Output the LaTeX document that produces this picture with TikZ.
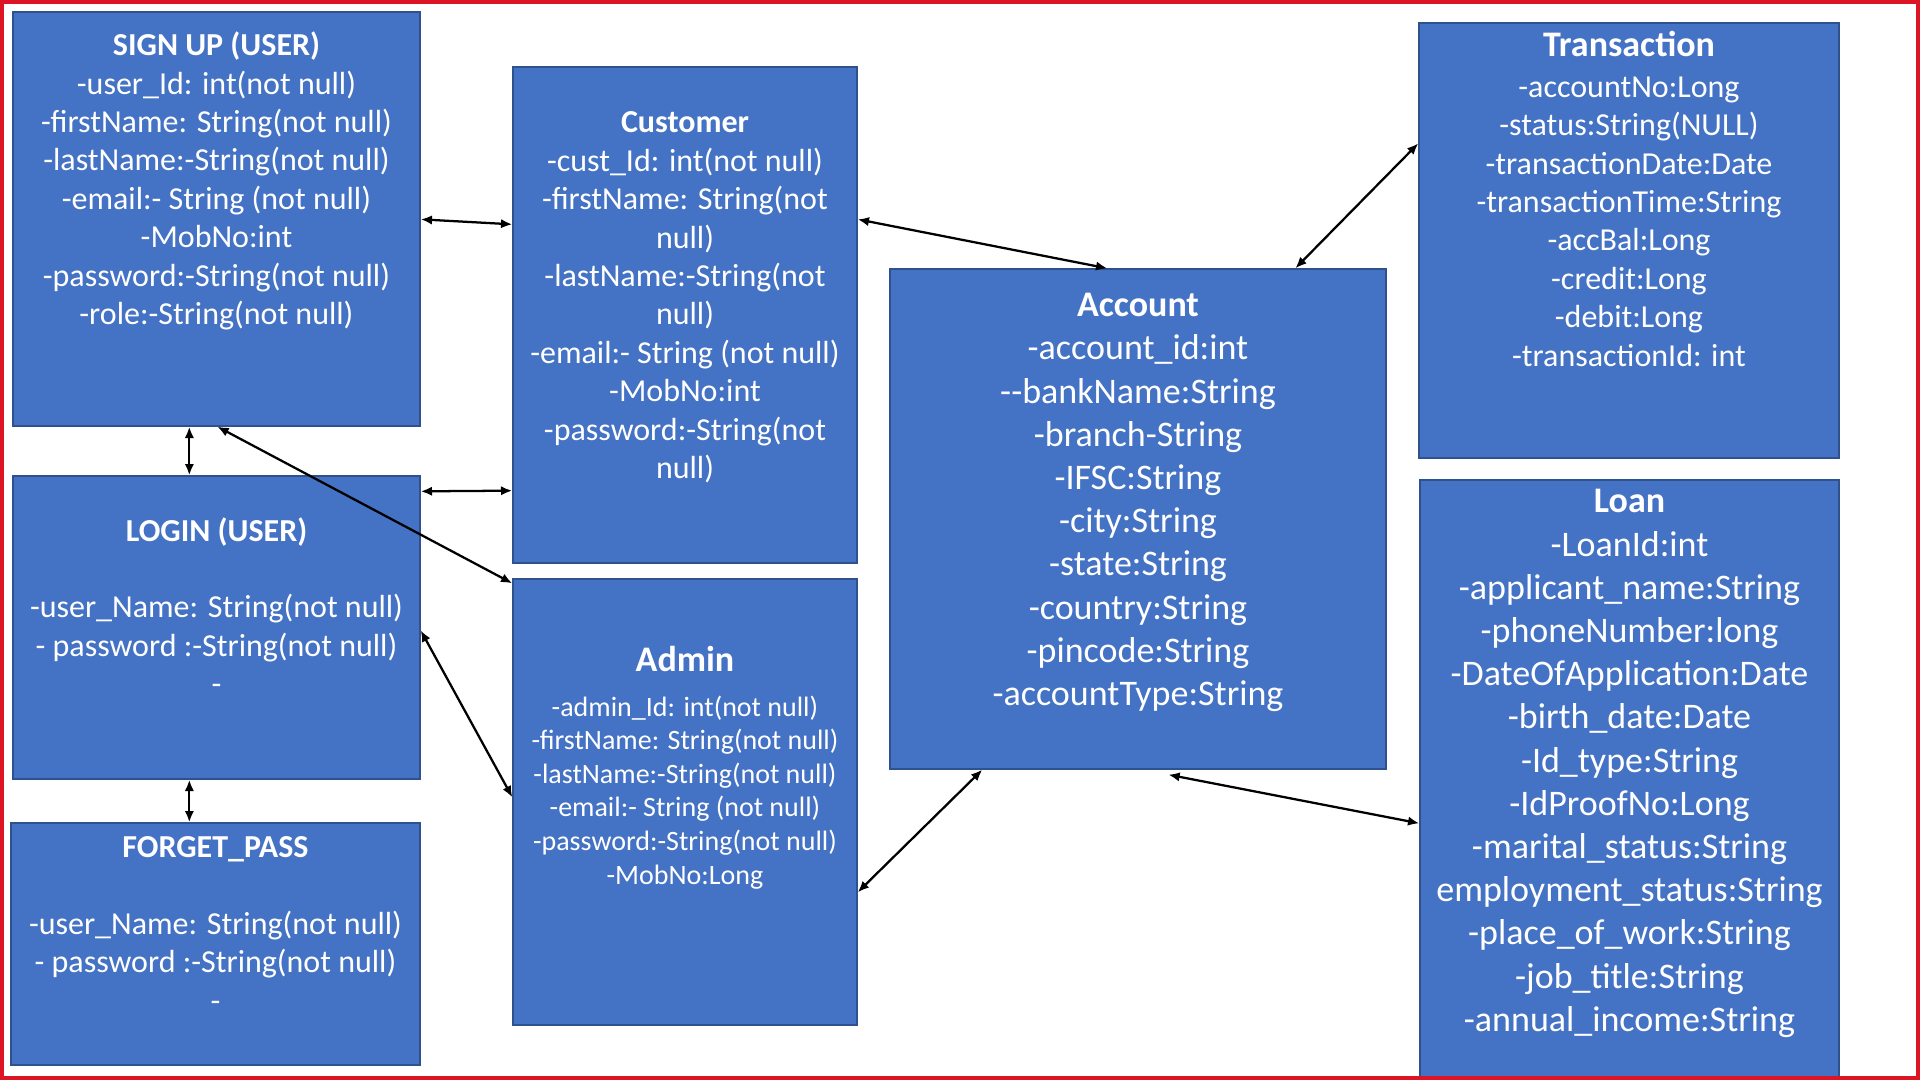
\documentclass[tikz,border=0pt]{standalone}
\usepackage{fontspec}
\setmainfont{Carlito}
\usetikzlibrary{arrows.meta,fit,calc}
\definecolor{boxblue}{RGB}{68,114,196}
\definecolor{boxline}{RGB}{47,82,143}
\definecolor{framered}{RGB}{220,20,36}
\tikzset{
  entity/.style={draw=boxline, fill=boxblue, line width=1pt, inner sep=0pt},
  attr/.style={text=white, align=center, inner sep=0pt, font=\fontsize{24}{28.8}\selectfont},
  bigattr/.style={attr, font=\fontsize{27}{32.4}\selectfont},
  smallattr/.style={attr, font=\fontsize{21}{25.2}\selectfont},
  link/.style={{Latex[length=8.5pt,width=7pt]}-{Latex[length=8.5pt,width=7pt]}, line width=1.7pt}
}
\begin{document}
\begin{tikzpicture}[x=0.75pt,y=0.75pt,yscale=-1,xscale=1]
\useasboundingbox (0,0) rectangle (1920,1080);

%Shape: Rectangle
\node [entity, fit={(13,12) (420,426)}] (signup) {};
%Shape: Rectangle
\node [entity, fit={(13,476) (420,779)}] (login) {};
%Shape: Rectangle
\node [entity, fit={(11,823) (420,1065)}] (forget) {};
%Shape: Rectangle
\node [entity, fit={(513,67) (857,563)}] (customer) {};
%Shape: Rectangle
\node [entity, fit={(513,579) (857,1025)}] (admin) {};
%Shape: Rectangle
\node [entity, fit={(890,269) (1386,769)}] (account) {};
%Shape: Rectangle
\node [entity, fit={(1419,23) (1839,458)}] (transaction) {};
%Shape: Rectangle
\node [entity, fit={(1420,480) (1839,1078)}] (loan) {};

% Text Node
\draw (216.5,181) node [attr] (signuptxt) {\textbf{SIGN UP (USER)}\\-user\_Id: int(not null)\\-firstName: String(not null)\\-lastName:-String(not null)\\-email:- String (not null)\\-MobNo:int\\-password:-String(not null)\\-role:-String(not null)};
% Text Node
\draw (216.5,606) node [attr] (logintxt) {\textbf{LOGIN (USER)}\\[28.8pt]-user\_Name: String(not null)\\- password :-String(not null)\\-};
% Text Node
\draw (215.5,924) node [attr] (forgettxt) {\textbf{FORGET\_PASS}\\[28.8pt]-user\_Name: String(not null)\\- password :-String(not null)\\-};
% Text Node
\draw (685,297.5) node [attr] (customertxt) {\textbf{Customer}\\-cust\_Id: int(not null)\\-firstName: String(not\\null)\\-lastName:-String(not\\null)\\-email:- String (not null)\\-MobNo:int\\-password:-String(not\\null)};
% Text Node
\draw (685,767.5) node [smallattr] (admintxt) {{\fontsize{27}{32.4}\selectfont\bfseries Admin}\\[8.5pt]-admin\_Id: int(not null)\\-firstName: String(not null)\\-lastName:-String(not null)\\-email:- String (not null)\\-password:-String(not null)\\-MobNo:Long};
% Text Node
\draw (1138,502.5) node [bigattr] (accounttxt) {\textbf{Account}\\-account\_id:int\\-{}-bankName:String\\-branch-String\\-IFSC:String\\-city:String\\-state:String\\-country:String\\-pincode:String\\-accountType:String};
% Text Node
\draw (1629,199) node [attr] (transactiontxt) {{\fontsize{27}{32.4}\selectfont\bfseries Transaction}\\[1.5pt]-accountNo:Long\\-status:String(NULL)\\-transactionDate:Date\\-transactionTime:String\\-accBal:Long\\-credit:Long\\-debit:Long\\-transactionId: int};
% Text Node
\draw (1629.5,763.5) node [bigattr] (loantxt) {\textbf{Loan}\\-LoanId:int\\-applicant\_name:String\\-phoneNumber:long\\-DateOfApplication:Date\\-birth\_date:Date\\-Id\_type:String\\-IdProofNo:Long\\-marital\_status:String\\employment\_status:String\\-place\_of\_work:String\\-job\_title:String\\-annual\_income:String};

%Straight Lines
\draw [link] ($(signup.north east)+(0,208)$) -- ($(customer.north west)+(0,158)$);
\draw [link] ($(signup.south west)+(177,0)$) -- ($(login.north west)+(177,0)$);
\draw [link] ($(signup.south west)+(205,0)$) -- ($(admin.north west)+(0,5)$);
\draw [link] ($(login.north east)+(0,16)$) -- ($(customer.south west)+(0,-73)$);
\draw [link] ($(login.north east)+(0,155)$) -- ($(admin.north west)+(0,219)$);
\draw [link] ($(login.south west)+(177,0)$) -- ($(forget.north west)+(179,0)$);
\draw [link] ($(customer.north east)+(0,153)$) -- ($(account.north west)+(218,0)$);
\draw [link] ($(account.north west)+(406,0)$) -- ($(transaction.north west)+(0,121)$);
\draw [link] ($(admin.north east)+(0,314)$) -- ($(account.south west)+(93,0)$);
\draw [link] ($(account.south west)+(279,5)$) -- ($(loan.north west)+(0,344)$);

%Shape: Frame
\draw [framered, line width=3pt] (2,2) rectangle (1918,1078);

\end{tikzpicture}
\end{document}
